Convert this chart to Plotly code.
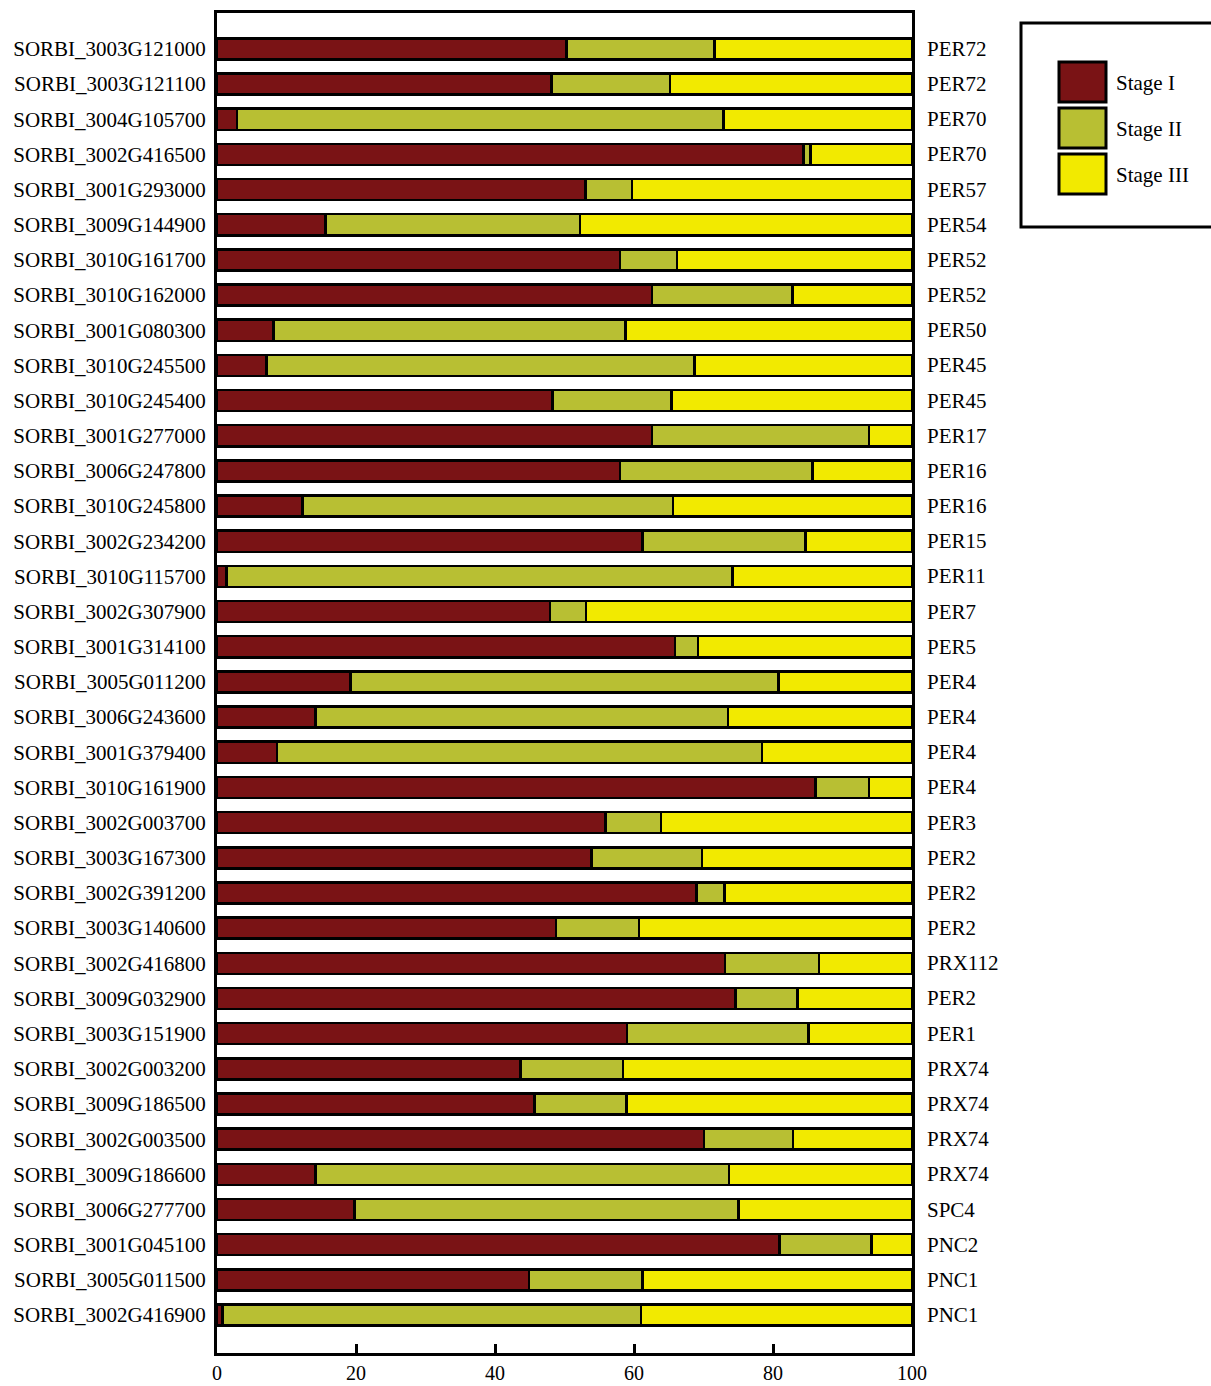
import plotly.graph_objects as go

# Gene IDs (top to bottom) and their peroxidase names
genes = [
    "SORBI_3003G121000", "SORBI_3003G121100", "SORBI_3004G105700", "SORBI_3002G416500",
    "SORBI_3001G293000", "SORBI_3009G144900", "SORBI_3010G161700", "SORBI_3010G162000",
    "SORBI_3001G080300", "SORBI_3010G245500", "SORBI_3010G245400", "SORBI_3001G277000",
    "SORBI_3006G247800", "SORBI_3010G245800", "SORBI_3002G234200", "SORBI_3010G115700",
    "SORBI_3002G307900", "SORBI_3001G314100", "SORBI_3005G011200", "SORBI_3006G243600",
    "SORBI_3001G379400", "SORBI_3010G161900", "SORBI_3002G003700", "SORBI_3003G167300",
    "SORBI_3002G391200", "SORBI_3003G140600", "SORBI_3002G416800", "SORBI_3009G032900",
    "SORBI_3003G151900", "SORBI_3002G003200", "SORBI_3009G186500", "SORBI_3002G003500",
    "SORBI_3009G186600", "SORBI_3006G277700", "SORBI_3001G045100", "SORBI_3005G011500",
    "SORBI_3002G416900",
]
names = [
    "PER72", "PER72", "PER70", "PER70", "PER57", "PER54", "PER52", "PER52", "PER50",
    "PER45", "PER45", "PER17", "PER16", "PER16", "PER15", "PER11", "PER7", "PER5",
    "PER4", "PER4", "PER4", "PER4", "PER3", "PER2", "PER2", "PER2", "PRX112", "PER2",
    "PER1", "PRX74", "PRX74", "PRX74", "PRX74", "SPC4", "PNC2", "PNC1", "PNC1",
]

# Percentage of expression in each developmental stage
stage_1 = [50.3, 48.1, 2.9, 84.4, 53.0, 15.6, 58.0, 62.6, 8.1, 7.1, 48.3, 62.6, 58.0,
           12.3, 61.2, 1.4, 47.9, 65.9, 19.2, 14.2, 8.6, 86.1, 55.9, 53.9, 69.0, 48.8,
           73.1, 74.6, 59.0, 43.7, 45.7, 70.1, 14.2, 19.8, 80.9, 44.9, 0.8]
stage_2 = [21.3, 17.1, 70.0, 1.0, 6.7, 36.6, 8.2, 20.2, 50.7, 61.6, 17.1, 31.2, 27.7,
           53.3, 23.5, 72.8, 5.2, 3.3, 61.6, 59.3, 69.8, 7.7, 8.0, 15.9, 4.0, 11.9,
           13.5, 8.9, 26.1, 14.7, 13.2, 12.8, 59.5, 55.2, 13.3, 16.3, 60.2]
stage_3 = [28.4, 34.8, 27.1, 14.6, 40.3, 47.8, 33.8, 17.2, 41.2, 31.3, 34.6, 6.2, 14.3,
           34.4, 15.3, 25.8, 46.9, 30.8, 19.2, 26.5, 21.6, 6.2, 36.1, 30.2, 27.0, 39.3,
           13.4, 16.5, 14.9, 41.6, 41.1, 17.1, 26.3, 25.0, 5.8, 38.8, 39.0]

stage_labels = ["Stage I", "Stage II", "Stage III"]
stage_colors = ["#7a1315", "#b8bf33", "#f2ea00"]
x_ticks = [0, 20, 40, 60, 80, 100]

FONT = "Liberation Serif"
W, H = 1211, 1386
L, R, T, B = 217, 299, 13, 33

rows = list(range(len(genes)))

fig = go.Figure()
for label, vals, col in zip(stage_labels, [stage_1, stage_2, stage_3], stage_colors):
    fig.add_trace(go.Bar(
        x=vals, y=rows, orientation="h", name=label, width=0.6,
        marker=dict(color=col, line=dict(color="black", width=2.5)),
        hoverinfo="skip", showlegend=False,
    ))

# Peroxidase names on the right side of the frame
for i, nm in enumerate(names):
    fig.add_annotation(
        x=1, xref="paper", y=i, yref="y", text=nm, showarrow=False,
        xanchor="left", yanchor="middle", xshift=13,
        font=dict(family=FONT, size=21, color="black"),
    )

# Legend panel drawn as a boxed key
pw, ph = W - L - R, H - T - B
def px(xp):
    return (xp - L) / pw
def py(yp):
    return (H - B - yp) / ph

fig.add_shape(type="rect", xref="paper", yref="paper",
              x0=px(1021), x1=px(1216), y0=py(227), y1=py(23),
              line=dict(color="black", width=3), fillcolor="white")
sw_top = [62, 108, 154]
for lab, col, t in zip(stage_labels, stage_colors, sw_top):
    fig.add_shape(type="rect", xref="paper", yref="paper",
                  x0=px(1059), x1=px(1106), y0=py(t + 40), y1=py(t),
                  line=dict(color="black", width=3), fillcolor=col)
    fig.add_annotation(x=px(1114), xref="paper", y=py(t + 21), yref="paper",
                       text=lab, showarrow=False, xanchor="left", yanchor="middle",
                       font=dict(family=FONT, size=21, color="black"))

fig.update_layout(
    barmode="stack",
    width=W, height=H,
    margin=dict(l=L, r=R, t=T, b=B, autoexpand=False),
    paper_bgcolor="white", plot_bgcolor="white",
    font=dict(family=FONT, size=21, color="black"),
    xaxis=dict(
        range=[0, 100], tickvals=x_ticks, ticktext=[str(v) for v in x_ticks],
        ticks="inside", ticklen=9, tickwidth=3, tickcolor="black",
        showline=True, linecolor="black", linewidth=3, mirror=True,
        showgrid=False, zeroline=False, ticklabelstandoff=0,
        tickfont=dict(family=FONT, size=20, color="black"),
    ),
    yaxis=dict(
        range=[len(genes) + 0.08, -1.02], tickmode="array",
        tickvals=rows, ticktext=genes, ticks="",
        showline=True, linecolor="black", linewidth=3, mirror=True,
        showgrid=False, zeroline=False, ticklabelstandoff=4,
        tickfont=dict(family=FONT, size=21, color="black"),
    ),
)

fig.write_html("out.html")
